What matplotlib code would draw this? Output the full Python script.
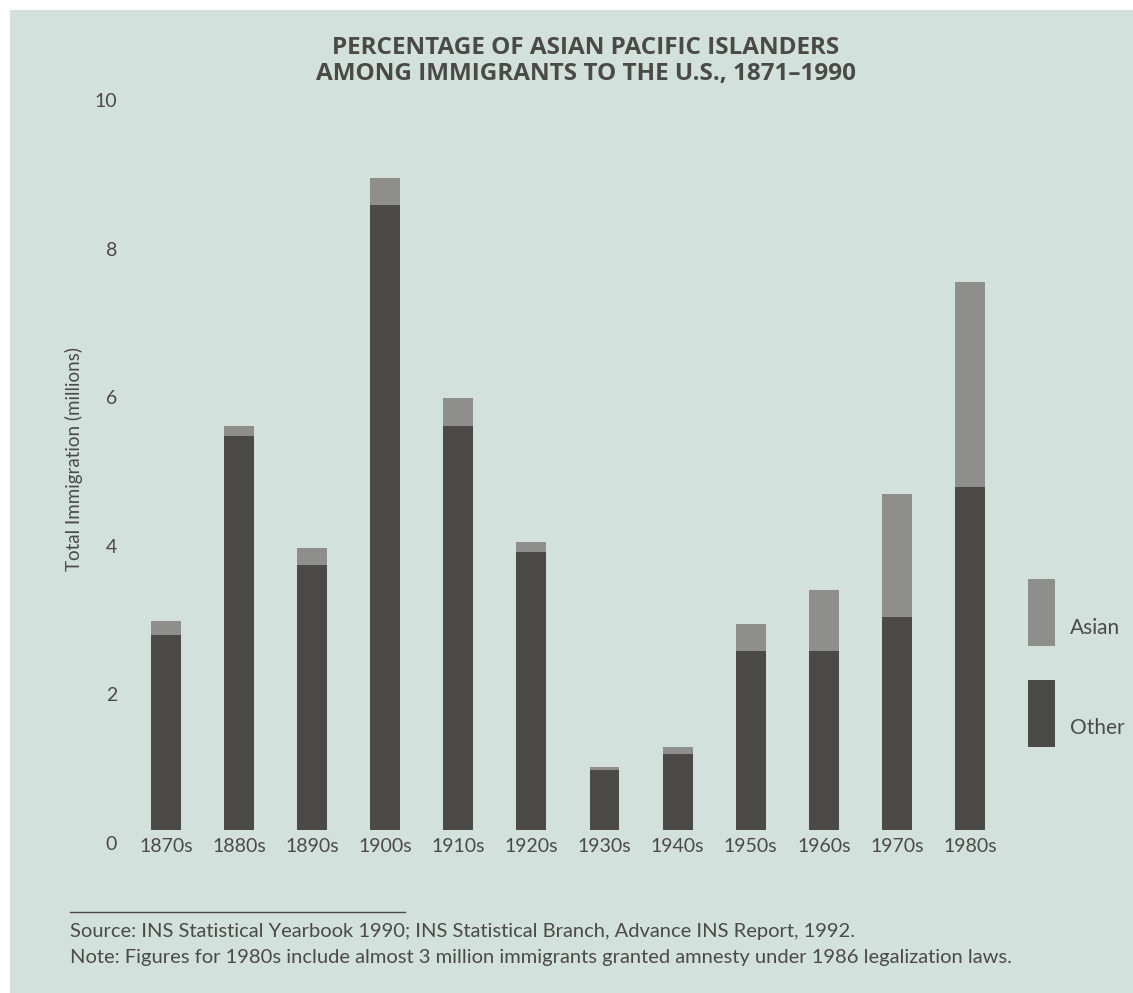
import numpy as np
import matplotlib.pyplot as plt
from matplotlib.patches import Rectangle
from matplotlib.lines import Line2D
import matplotlib.transforms as mtransforms

plt.rcParams['font.family'] = ['Lato', 'DejaVu Sans']

# decades and values (millions)
decades = ["1870s", "1880s", "1890s", "1900s", "1910s", "1920s",
           "1930s", "1940s", "1950s", "1960s", "1970s", "1980s"]
other = [2.63, 5.30, 3.57, 8.41, 5.44, 3.74, 0.81, 1.02, 2.41, 2.41, 2.87, 4.62]
asian = [0.18, 0.14, 0.23, 0.37, 0.37, 0.14, 0.04, 0.10, 0.36, 0.82, 1.65, 2.76]
yticks = [0, 2, 4, 6, 8, 10]

bg = '#d3e1dc'
dark = '#4b4a47'
light = '#8e8e8c'
txt = '#4a4a48'

fig = plt.figure(figsize=(11.33, 9.93), dpi=100)
fig.patch.set_facecolor('white')
# coloured page, white margin top and left
fig.patches.append(Rectangle((10 / 1133, -0.01), 1.01, 1.01 - 10 / 993, transform=fig.transFigure,
                             facecolor=bg, edgecolor='none', zorder=-10))

ax = fig.add_axes([0.1143, 0.1641, 0.774, 0.7483])
ax.set_facecolor('none')
x = np.arange(len(decades))
ax.bar(x, other, width=0.41, color=dark)
ax.bar(x, asian, width=0.41, bottom=other, color=light)

ax.set_xlim(-0.5, len(decades) - 0.5)
ax.set_ylim(0, 10)
ax.set_xticks(x)
ax.set_xticklabels(decades, fontsize=14, color=txt)
ax.set_yticks(yticks)
ax.set_yticklabels([str(t) for t in yticks], fontsize=14, color=txt)
ax.tick_params(length=0, pad=6)
ax.tick_params(axis='y', pad=9)
# the printed y labels sit a bit lower than the values
off = mtransforms.ScaledTranslation(0, -13 / 100, fig.dpi_scale_trans)
for lab in ax.get_yticklabels():
    lab.set_transform(lab.get_transform() + off)
for s in ax.spines.values():
    s.set_visible(False)
ax.set_ylabel("Total Immigration (millions)", fontsize=13.5, color=txt, labelpad=8)

title_font = dict(ha='center', va='center', fontsize=17.5, fontweight='bold', color=txt,
                  family=['Open Sans', 'DejaVu Sans'])
fig.text(586 / 1133, 1 - 48 / 993, "PERCENTAGE OF ASIAN PACIFIC ISLANDERS", **title_font)
fig.text(586 / 1133, 1 - 74 / 993, "AMONG IMMIGRANTS TO THE U.S., 1871\u20131990", **title_font)

# legend boxes
fig.patches.append(Rectangle((1028 / 1133, 1 - 646 / 993), 27 / 1133, 67 / 993,
                             transform=fig.transFigure, facecolor=light, edgecolor='none'))
fig.patches.append(Rectangle((1028 / 1133, 1 - 747 / 993), 27 / 1133, 67 / 993,
                             transform=fig.transFigure, facecolor=dark, edgecolor='none'))
fig.text(1070 / 1133, 1 - 628 / 993, "Asian", va='center', fontsize=15, color=txt)
fig.text(1070 / 1133, 1 - 728 / 993, "Other", va='center', fontsize=15, color=txt)

# source notes
fig.add_artist(Line2D([70 / 1133, 405 / 1133], [1 - 912 / 993, 1 - 912 / 993],
                      transform=fig.transFigure, color=txt, lw=1))
fig.text(70 / 1133, 1 - 931 / 993,
         "Source: INS Statistical Yearbook 1990; INS Statistical Branch, Advance INS Report, 1992.",
         va='center', fontsize=14.5, color=txt)
fig.text(70 / 1133, 1 - 958 / 993,
         "Note: Figures for 1980s include almost 3 million immigrants granted amnesty under 1986 legalization laws.",
         va='center', fontsize=14.5, color=txt)

fig.savefig("out.png", dpi=100, facecolor=fig.get_facecolor())
